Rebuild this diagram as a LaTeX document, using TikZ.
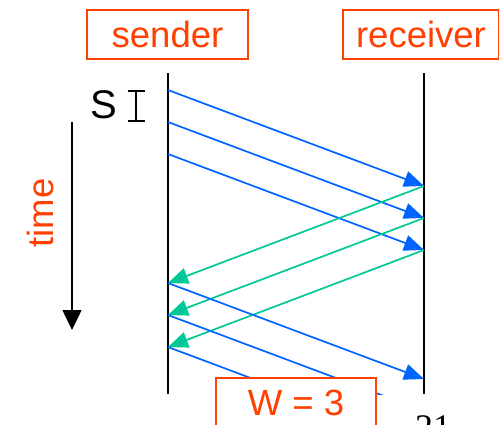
\documentclass[tikz,border=0pt]{standalone}
\usepackage{fontspec}
\setmainfont{Liberation Sans}
\newfontfamily\serifnum{Liberation Serif}
\usepackage{xcolor}
\usetikzlibrary{arrows.meta, positioning}
\definecolor{redorange}{RGB}{255,64,0}
\definecolor{pktblue}{RGB}{0,100,255}
\definecolor{ackgreen}{RGB}{0,200,150}
\tikzset{every node/.style={font=\fontsize{36.5}{40}\selectfont}}

\begin{document}
\begin{tikzpicture}[x=1pt, y=-1pt]
    % Define styles
    \tikzstyle{namebox} = [rectangle, draw=redorange, line width=1.8pt, fill=white, text=redorange, minimum height=49pt, inner sep=0pt, text centered]
    \tikzstyle{timeline} = [line width=2pt, black]
    \tikzstyle{pkt} = [line width=1.7pt, pktblue, -{Triangle[length=20pt,width=16pt]}]
    \tikzstyle{ack} = [line width=1.7pt, ackgreen, -{Triangle[length=20pt,width=16pt]}]

    \useasboundingbox (0,0) rectangle (499,424);
    \clip (0,0) rectangle (499,424);

    % Time lines
    \coordinate (stop) at (168,73);
    \coordinate (sbot) at (168,394);
    \coordinate (rtop) at (424,73);
    \coordinate (rbot) at (424,394);

    % Send and receive instants
    \coordinate (s1) at (168,90);
    \coordinate (s2) at (168,122);
    \coordinate (s3) at (168,154);
    \coordinate (r1) at (424,186);
    \coordinate (r2) at (424,218);
    \coordinate (r3) at (424,250);
    \coordinate (a1) at (168,283);
    \coordinate (a2) at (168,315);
    \coordinate (a3) at (168,347);
    \coordinate (n1) at (424,379);
    \coordinate (n2) at (424,411);
    \coordinate (n3) at (424,443);

    \begin{scope}
        \clip (0,0) rectangle (499,394);
        \draw [timeline] (stop) -- (sbot);
        \draw [timeline] (rtop) -- (rbot);

        % First window
        \draw [pkt] (s1) -- (r1);
        \draw [pkt] (s2) -- (r2);
        \draw [pkt] (s3) -- (r3);

        % Acks
        \draw [ack] (r1) -- (a1);
        \draw [ack] (r2) -- (a2);
        \draw [ack] (r3) -- (a3);

        % Next window
        \draw [pkt] (a1) -- (n1);
        \draw [pkt] (a2) -- (n2);
        \draw [pkt] (a3) -- (n3);
    \end{scope}

    % Labels
    \node (sender) [namebox, minimum width=161pt] at (167.5,34.5) {sender};
    \node (receiver) [namebox, minimum width=156pt] at (421,34.5) {receiver};
    \node (window) [namebox, minimum width=160pt] at (296,402.5) {W = 3};

    % Send spacing S
    \node (stime) at (104,105) [font=\fontsize{40}{44}\selectfont, inner sep=0pt] {S};
    \coordinate (ibar1) at (136,90);
    \coordinate (ibar2) at (136,122);
    \draw [line width=1.6pt, {Bar[width=17pt]}-{Bar[width=17pt]}] (ibar1) -- (ibar2);

    % Time axis
    \coordinate (t0) at (72,122);
    \coordinate (t1) at (72,330);
    \draw [line width=1.6pt, -{Triangle[length=20pt,width=19pt]}] (t0) -- (t1);
    \node (timelabel) at (40,213) [rotate=90, text=redorange] {time};

    % Page number
    \node (pagenum) at (433,439) [anchor=base, font=\serifnum\fontsize{36}{40}\selectfont] {21};
\end{tikzpicture}
\end{document}
